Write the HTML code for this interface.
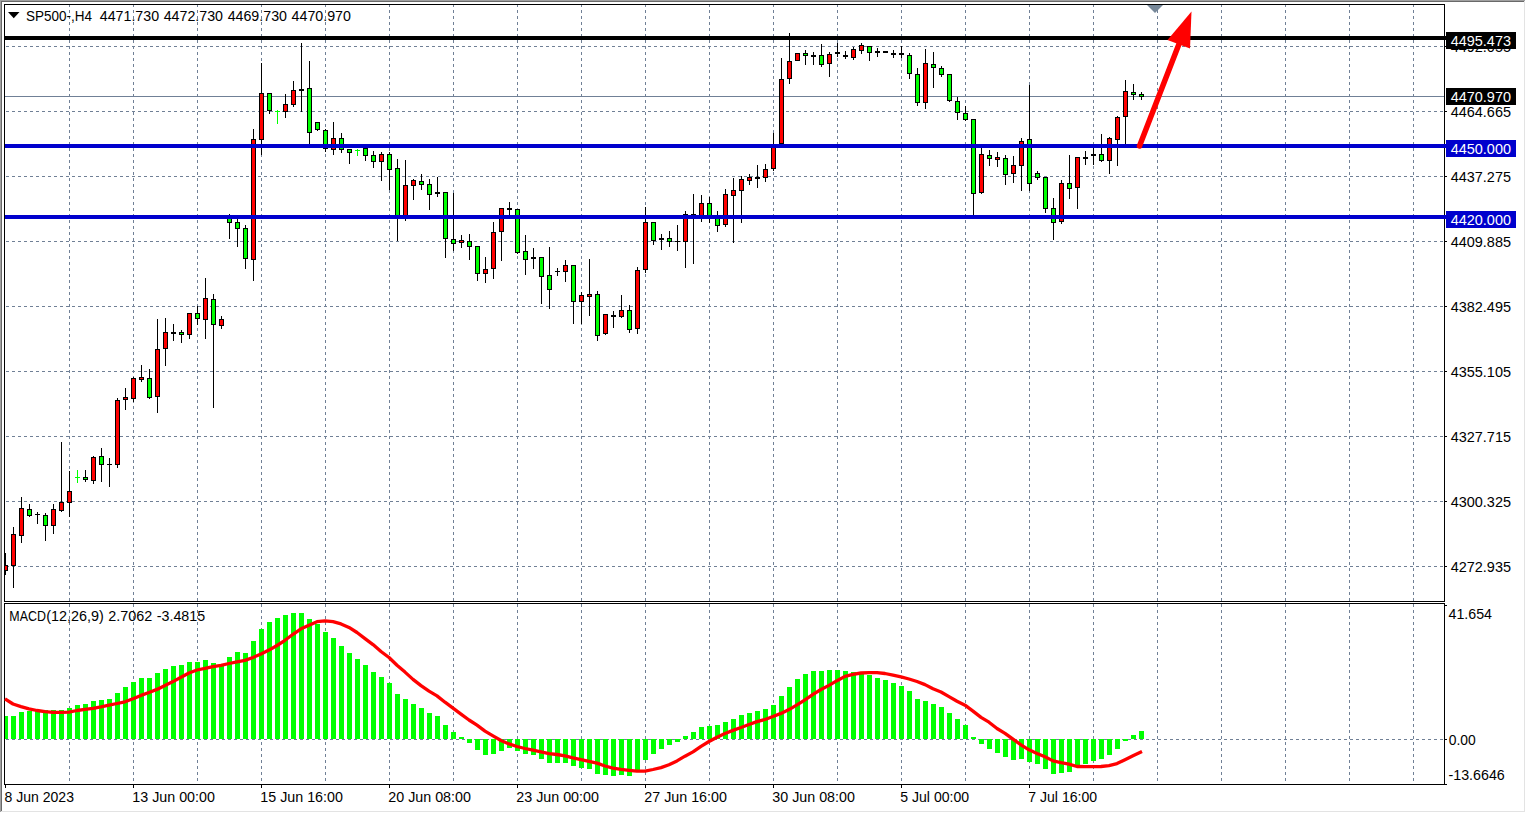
<!DOCTYPE html>
<html><head><meta charset="utf-8"><title>SP500-,H4</title>
<style>
html,body{margin:0;padding:0;background:#fff;overflow:hidden}
svg{display:block}
text{font-family:"Liberation Sans",Arial,sans-serif;font-size:14px;fill:#000}
.w{fill:#fff}
</style></head><body>
<svg width="1526" height="813" viewBox="0 0 1526 813">
<rect width="1526" height="813" fill="#fff"/>
<g shape-rendering="crispEdges">
<rect x="0" y="0" width="1525" height="1" fill="#a0a0a0"/><rect x="0" y="0" width="1" height="812" fill="#a0a0a0"/><rect x="1" y="1" width="1523" height="1" fill="#696969"/><rect x="1" y="1" width="1" height="810" fill="#696969"/><rect x="1524" y="1" width="1" height="811" fill="#e3e3e3"/><rect x="1" y="811" width="1524" height="1" fill="#e3e3e3"/>
<g id="grid" stroke="#708096" stroke-width="1" stroke-dasharray="3 3"><line x1="69.5" y1="5" x2="69.5" y2="601" stroke-dashoffset="1"/><line x1="69.5" y1="604" x2="69.5" y2="784" stroke-dashoffset="0"/><line x1="133.5" y1="5" x2="133.5" y2="601" stroke-dashoffset="1"/><line x1="133.5" y1="604" x2="133.5" y2="784" stroke-dashoffset="0"/><line x1="197.5" y1="5" x2="197.5" y2="601" stroke-dashoffset="1"/><line x1="197.5" y1="604" x2="197.5" y2="784" stroke-dashoffset="0"/><line x1="261.5" y1="5" x2="261.5" y2="601" stroke-dashoffset="1"/><line x1="261.5" y1="604" x2="261.5" y2="784" stroke-dashoffset="0"/><line x1="325.5" y1="5" x2="325.5" y2="601" stroke-dashoffset="1"/><line x1="325.5" y1="604" x2="325.5" y2="784" stroke-dashoffset="0"/><line x1="389.5" y1="5" x2="389.5" y2="601" stroke-dashoffset="1"/><line x1="389.5" y1="604" x2="389.5" y2="784" stroke-dashoffset="0"/><line x1="453.5" y1="5" x2="453.5" y2="601" stroke-dashoffset="1"/><line x1="453.5" y1="604" x2="453.5" y2="784" stroke-dashoffset="0"/><line x1="517.5" y1="5" x2="517.5" y2="601" stroke-dashoffset="1"/><line x1="517.5" y1="604" x2="517.5" y2="784" stroke-dashoffset="0"/><line x1="581.5" y1="5" x2="581.5" y2="601" stroke-dashoffset="1"/><line x1="581.5" y1="604" x2="581.5" y2="784" stroke-dashoffset="0"/><line x1="645.5" y1="5" x2="645.5" y2="601" stroke-dashoffset="1"/><line x1="645.5" y1="604" x2="645.5" y2="784" stroke-dashoffset="0"/><line x1="709.5" y1="5" x2="709.5" y2="601" stroke-dashoffset="1"/><line x1="709.5" y1="604" x2="709.5" y2="784" stroke-dashoffset="0"/><line x1="773.5" y1="5" x2="773.5" y2="601" stroke-dashoffset="1"/><line x1="773.5" y1="604" x2="773.5" y2="784" stroke-dashoffset="0"/><line x1="837.5" y1="5" x2="837.5" y2="601" stroke-dashoffset="1"/><line x1="837.5" y1="604" x2="837.5" y2="784" stroke-dashoffset="0"/><line x1="901.5" y1="5" x2="901.5" y2="601" stroke-dashoffset="1"/><line x1="901.5" y1="604" x2="901.5" y2="784" stroke-dashoffset="0"/><line x1="965.5" y1="5" x2="965.5" y2="601" stroke-dashoffset="1"/><line x1="965.5" y1="604" x2="965.5" y2="784" stroke-dashoffset="0"/><line x1="1029.5" y1="5" x2="1029.5" y2="601" stroke-dashoffset="1"/><line x1="1029.5" y1="604" x2="1029.5" y2="784" stroke-dashoffset="0"/><line x1="1093.5" y1="5" x2="1093.5" y2="601" stroke-dashoffset="1"/><line x1="1093.5" y1="604" x2="1093.5" y2="784" stroke-dashoffset="0"/><line x1="1157.5" y1="5" x2="1157.5" y2="601" stroke-dashoffset="1"/><line x1="1157.5" y1="604" x2="1157.5" y2="784" stroke-dashoffset="0"/><line x1="1221.5" y1="5" x2="1221.5" y2="601" stroke-dashoffset="1"/><line x1="1221.5" y1="604" x2="1221.5" y2="784" stroke-dashoffset="0"/><line x1="1285.5" y1="5" x2="1285.5" y2="601" stroke-dashoffset="1"/><line x1="1285.5" y1="604" x2="1285.5" y2="784" stroke-dashoffset="0"/><line x1="1349.5" y1="5" x2="1349.5" y2="601" stroke-dashoffset="1"/><line x1="1349.5" y1="604" x2="1349.5" y2="784" stroke-dashoffset="0"/><line x1="1413.5" y1="5" x2="1413.5" y2="601" stroke-dashoffset="1"/><line x1="1413.5" y1="604" x2="1413.5" y2="784" stroke-dashoffset="0"/><line x1="5" y1="46.5" x2="1444" y2="46.5" stroke-dashoffset="5"/><line x1="5" y1="111.5" x2="1444" y2="111.5" stroke-dashoffset="5"/><line x1="5" y1="176.5" x2="1444" y2="176.5" stroke-dashoffset="5"/><line x1="5" y1="241.5" x2="1444" y2="241.5" stroke-dashoffset="5"/><line x1="5" y1="306.5" x2="1444" y2="306.5" stroke-dashoffset="5"/><line x1="5" y1="371.5" x2="1444" y2="371.5" stroke-dashoffset="5"/><line x1="5" y1="436.5" x2="1444" y2="436.5" stroke-dashoffset="5"/><line x1="5" y1="501.5" x2="1444" y2="501.5" stroke-dashoffset="5"/><line x1="5" y1="566.5" x2="1444" y2="566.5" stroke-dashoffset="5"/><line x1="5" y1="739.5" x2="1444" y2="739.5" stroke-dashoffset="5"/></g>
<rect x="5" y="96" width="1439" height="1" fill="#708096"/>
<g id="macd"><rect x="5" y="716" width="3" height="23" fill="#00ff00"/><rect x="11" y="716" width="5" height="23" fill="#00ff00"/><rect x="19" y="712" width="5" height="27" fill="#00ff00"/><rect x="27" y="711" width="5" height="28" fill="#00ff00"/><rect x="35" y="710" width="5" height="29" fill="#00ff00"/><rect x="43" y="710" width="5" height="29" fill="#00ff00"/><rect x="51" y="710" width="5" height="29" fill="#00ff00"/><rect x="59" y="710" width="5" height="29" fill="#00ff00"/><rect x="67" y="708" width="5" height="31" fill="#00ff00"/><rect x="75" y="705" width="5" height="34" fill="#00ff00"/><rect x="83" y="704" width="5" height="35" fill="#00ff00"/><rect x="91" y="701" width="5" height="38" fill="#00ff00"/><rect x="99" y="700" width="5" height="39" fill="#00ff00"/><rect x="107" y="699" width="5" height="40" fill="#00ff00"/><rect x="115" y="693" width="5" height="46" fill="#00ff00"/><rect x="123" y="687" width="5" height="52" fill="#00ff00"/><rect x="131" y="682" width="5" height="57" fill="#00ff00"/><rect x="139" y="678" width="5" height="61" fill="#00ff00"/><rect x="147" y="678" width="5" height="61" fill="#00ff00"/><rect x="155" y="673" width="5" height="66" fill="#00ff00"/><rect x="163" y="669" width="5" height="70" fill="#00ff00"/><rect x="171" y="666" width="5" height="73" fill="#00ff00"/><rect x="179" y="665" width="5" height="74" fill="#00ff00"/><rect x="187" y="662" width="5" height="77" fill="#00ff00"/><rect x="195" y="662" width="5" height="77" fill="#00ff00"/><rect x="203" y="660" width="5" height="79" fill="#00ff00"/><rect x="211" y="663" width="5" height="76" fill="#00ff00"/><rect x="219" y="664" width="5" height="75" fill="#00ff00"/><rect x="227" y="657" width="5" height="82" fill="#00ff00"/><rect x="235" y="652" width="5" height="87" fill="#00ff00"/><rect x="243" y="653" width="5" height="86" fill="#00ff00"/><rect x="251" y="641" width="5" height="98" fill="#00ff00"/><rect x="259" y="629" width="5" height="110" fill="#00ff00"/><rect x="267" y="622" width="5" height="117" fill="#00ff00"/><rect x="275" y="618" width="5" height="121" fill="#00ff00"/><rect x="283" y="615" width="5" height="124" fill="#00ff00"/><rect x="291" y="613" width="5" height="126" fill="#00ff00"/><rect x="299" y="613" width="5" height="126" fill="#00ff00"/><rect x="307" y="619" width="5" height="120" fill="#00ff00"/><rect x="315" y="624" width="5" height="115" fill="#00ff00"/><rect x="323" y="632" width="5" height="107" fill="#00ff00"/><rect x="331" y="638" width="5" height="101" fill="#00ff00"/><rect x="339" y="646" width="5" height="93" fill="#00ff00"/><rect x="347" y="653" width="5" height="86" fill="#00ff00"/><rect x="355" y="659" width="5" height="80" fill="#00ff00"/><rect x="363" y="665" width="5" height="74" fill="#00ff00"/><rect x="371" y="672" width="5" height="67" fill="#00ff00"/><rect x="379" y="677" width="5" height="62" fill="#00ff00"/><rect x="387" y="683" width="5" height="56" fill="#00ff00"/><rect x="395" y="694" width="5" height="45" fill="#00ff00"/><rect x="403" y="699" width="5" height="40" fill="#00ff00"/><rect x="411" y="704" width="5" height="35" fill="#00ff00"/><rect x="419" y="708" width="5" height="31" fill="#00ff00"/><rect x="427" y="713" width="5" height="26" fill="#00ff00"/><rect x="435" y="716" width="5" height="23" fill="#00ff00"/><rect x="443" y="725" width="5" height="14" fill="#00ff00"/><rect x="451" y="732" width="5" height="7" fill="#00ff00"/><rect x="459" y="737" width="5" height="2" fill="#00ff00"/><rect x="467" y="739" width="5" height="4" fill="#00ff00"/><rect x="475" y="739" width="5" height="11" fill="#00ff00"/><rect x="483" y="739" width="5" height="16" fill="#00ff00"/><rect x="491" y="739" width="5" height="15" fill="#00ff00"/><rect x="499" y="739" width="5" height="12" fill="#00ff00"/><rect x="507" y="739" width="5" height="9" fill="#00ff00"/><rect x="515" y="739" width="5" height="12" fill="#00ff00"/><rect x="523" y="739" width="5" height="15" fill="#00ff00"/><rect x="531" y="739" width="5" height="16" fill="#00ff00"/><rect x="539" y="739" width="5" height="20" fill="#00ff00"/><rect x="547" y="739" width="5" height="24" fill="#00ff00"/><rect x="555" y="739" width="5" height="24" fill="#00ff00"/><rect x="563" y="739" width="5" height="24" fill="#00ff00"/><rect x="571" y="739" width="5" height="27" fill="#00ff00"/><rect x="579" y="739" width="5" height="29" fill="#00ff00"/><rect x="587" y="739" width="5" height="30" fill="#00ff00"/><rect x="595" y="739" width="5" height="35" fill="#00ff00"/><rect x="603" y="739" width="5" height="36" fill="#00ff00"/><rect x="611" y="739" width="5" height="37" fill="#00ff00"/><rect x="619" y="739" width="5" height="36" fill="#00ff00"/><rect x="627" y="739" width="5" height="37" fill="#00ff00"/><rect x="635" y="739" width="5" height="32" fill="#00ff00"/><rect x="643" y="739" width="5" height="21" fill="#00ff00"/><rect x="651" y="739" width="5" height="15" fill="#00ff00"/><rect x="659" y="739" width="5" height="10" fill="#00ff00"/><rect x="667" y="739" width="5" height="6" fill="#00ff00"/><rect x="675" y="739" width="5" height="3" fill="#00ff00"/><rect x="683" y="736" width="5" height="3" fill="#00ff00"/><rect x="691" y="732" width="5" height="7" fill="#00ff00"/><rect x="699" y="727" width="5" height="12" fill="#00ff00"/><rect x="707" y="726" width="5" height="13" fill="#00ff00"/><rect x="715" y="725" width="5" height="14" fill="#00ff00"/><rect x="723" y="722" width="5" height="17" fill="#00ff00"/><rect x="731" y="719" width="5" height="20" fill="#00ff00"/><rect x="739" y="715" width="5" height="24" fill="#00ff00"/><rect x="747" y="713" width="5" height="26" fill="#00ff00"/><rect x="755" y="711" width="5" height="28" fill="#00ff00"/><rect x="763" y="709" width="5" height="30" fill="#00ff00"/><rect x="771" y="705" width="5" height="34" fill="#00ff00"/><rect x="779" y="696" width="5" height="43" fill="#00ff00"/><rect x="787" y="687" width="5" height="52" fill="#00ff00"/><rect x="795" y="679" width="5" height="60" fill="#00ff00"/><rect x="803" y="674" width="5" height="65" fill="#00ff00"/><rect x="811" y="671" width="5" height="68" fill="#00ff00"/><rect x="819" y="671" width="5" height="68" fill="#00ff00"/><rect x="827" y="670" width="5" height="69" fill="#00ff00"/><rect x="835" y="670" width="5" height="69" fill="#00ff00"/><rect x="843" y="671" width="5" height="68" fill="#00ff00"/><rect x="851" y="672" width="5" height="67" fill="#00ff00"/><rect x="859" y="673" width="5" height="66" fill="#00ff00"/><rect x="867" y="675" width="5" height="64" fill="#00ff00"/><rect x="875" y="678" width="5" height="61" fill="#00ff00"/><rect x="883" y="680" width="5" height="59" fill="#00ff00"/><rect x="891" y="683" width="5" height="56" fill="#00ff00"/><rect x="899" y="686" width="5" height="53" fill="#00ff00"/><rect x="907" y="691" width="5" height="48" fill="#00ff00"/><rect x="915" y="699" width="5" height="40" fill="#00ff00"/><rect x="923" y="701" width="5" height="38" fill="#00ff00"/><rect x="931" y="704" width="5" height="35" fill="#00ff00"/><rect x="939" y="707" width="5" height="32" fill="#00ff00"/><rect x="947" y="713" width="5" height="26" fill="#00ff00"/><rect x="955" y="719" width="5" height="20" fill="#00ff00"/><rect x="963" y="725" width="5" height="14" fill="#00ff00"/><rect x="971" y="737" width="5" height="2" fill="#00ff00"/><rect x="979" y="739" width="5" height="5" fill="#00ff00"/><rect x="987" y="739" width="5" height="10" fill="#00ff00"/><rect x="995" y="739" width="5" height="14" fill="#00ff00"/><rect x="1003" y="739" width="5" height="18" fill="#00ff00"/><rect x="1011" y="739" width="5" height="21" fill="#00ff00"/><rect x="1019" y="739" width="5" height="20" fill="#00ff00"/><rect x="1027" y="739" width="5" height="23" fill="#00ff00"/><rect x="1035" y="739" width="5" height="25" fill="#00ff00"/><rect x="1043" y="739" width="5" height="30" fill="#00ff00"/><rect x="1051" y="739" width="5" height="35" fill="#00ff00"/><rect x="1059" y="739" width="5" height="34" fill="#00ff00"/><rect x="1067" y="739" width="5" height="33" fill="#00ff00"/><rect x="1075" y="739" width="5" height="26" fill="#00ff00"/><rect x="1083" y="739" width="5" height="25" fill="#00ff00"/><rect x="1091" y="739" width="5" height="22" fill="#00ff00"/><rect x="1099" y="739" width="5" height="20" fill="#00ff00"/><rect x="1107" y="739" width="5" height="16" fill="#00ff00"/><rect x="1115" y="739" width="5" height="10" fill="#00ff00"/><rect x="1123" y="739" width="5" height="2" fill="#00ff00"/><rect x="1131" y="735" width="5" height="4" fill="#00ff00"/><rect x="1139" y="731" width="5" height="8" fill="#00ff00"/></g>
<g id="candles"><rect x="5" y="553" width="1" height="22" fill="#000"/><rect x="5" y="565" width="3" height="6" fill="#000"/><rect x="5" y="566" width="2" height="4" fill="#ff0000"/><rect x="13" y="527" width="1" height="61" fill="#000"/><rect x="11" y="534" width="5" height="32" fill="#000"/><rect x="12" y="535" width="3" height="30" fill="#ff0000"/><rect x="21" y="497" width="1" height="46" fill="#000"/><rect x="19" y="508" width="5" height="28" fill="#000"/><rect x="20" y="509" width="3" height="26" fill="#ff0000"/><rect x="29" y="504" width="1" height="13" fill="#000"/><rect x="27" y="509" width="5" height="7" fill="#000"/><rect x="28" y="510" width="3" height="5" fill="#00ff00"/><rect x="37" y="512" width="1" height="12" fill="#000"/><rect x="35" y="514" width="5" height="1" fill="#000"/><rect x="45" y="513" width="1" height="28" fill="#000"/><rect x="43" y="515" width="5" height="11" fill="#000"/><rect x="44" y="516" width="3" height="9" fill="#00ff00"/><rect x="53" y="504" width="1" height="30" fill="#000"/><rect x="51" y="509" width="5" height="17" fill="#000"/><rect x="52" y="510" width="3" height="15" fill="#ff0000"/><rect x="61" y="442" width="1" height="70" fill="#000"/><rect x="59" y="502" width="5" height="9" fill="#000"/><rect x="60" y="503" width="3" height="7" fill="#ff0000"/><rect x="69" y="471" width="1" height="46" fill="#000"/><rect x="67" y="491" width="5" height="12" fill="#000"/><rect x="68" y="492" width="3" height="10" fill="#ff0000"/><rect x="77" y="470" width="1" height="13" fill="#00ff00"/><rect x="75" y="477" width="5" height="1" fill="#00ff00"/><rect x="85" y="470" width="1" height="12" fill="#000"/><rect x="83" y="477" width="5" height="3" fill="#000"/><rect x="84" y="478" width="3" height="1" fill="#00ff00"/><rect x="93" y="456" width="1" height="28" fill="#000"/><rect x="91" y="457" width="5" height="24" fill="#000"/><rect x="92" y="458" width="3" height="22" fill="#ff0000"/><rect x="101" y="448" width="1" height="34" fill="#000"/><rect x="99" y="456" width="5" height="9" fill="#000"/><rect x="100" y="457" width="3" height="7" fill="#00ff00"/><rect x="109" y="458" width="1" height="29" fill="#000"/><rect x="107" y="464" width="5" height="1" fill="#000"/><rect x="117" y="398" width="1" height="70" fill="#000"/><rect x="115" y="400" width="5" height="65" fill="#000"/><rect x="116" y="401" width="3" height="63" fill="#ff0000"/><rect x="125" y="388" width="1" height="22" fill="#000"/><rect x="123" y="397" width="5" height="3" fill="#000"/><rect x="124" y="398" width="3" height="1" fill="#ff0000"/><rect x="133" y="377" width="1" height="25" fill="#000"/><rect x="131" y="378" width="5" height="21" fill="#000"/><rect x="132" y="379" width="3" height="19" fill="#ff0000"/><rect x="141" y="365" width="1" height="17" fill="#000"/><rect x="139" y="377" width="5" height="3" fill="#000"/><rect x="140" y="378" width="3" height="1" fill="#ff0000"/><rect x="149" y="369" width="1" height="30" fill="#000"/><rect x="147" y="378" width="5" height="20" fill="#000"/><rect x="148" y="379" width="3" height="18" fill="#00ff00"/><rect x="157" y="319" width="1" height="94" fill="#000"/><rect x="155" y="349" width="5" height="48" fill="#000"/><rect x="156" y="350" width="3" height="46" fill="#ff0000"/><rect x="165" y="318" width="1" height="48" fill="#000"/><rect x="163" y="332" width="5" height="17" fill="#000"/><rect x="164" y="333" width="3" height="15" fill="#ff0000"/><rect x="173" y="324" width="1" height="17" fill="#000"/><rect x="171" y="332" width="5" height="2" fill="#000"/><rect x="181" y="330" width="1" height="13" fill="#000"/><rect x="179" y="332" width="5" height="3" fill="#000"/><rect x="180" y="333" width="3" height="1" fill="#00ff00"/><rect x="189" y="313" width="1" height="26" fill="#000"/><rect x="187" y="313" width="5" height="22" fill="#000"/><rect x="188" y="314" width="3" height="20" fill="#ff0000"/><rect x="197" y="306" width="1" height="19" fill="#000"/><rect x="195" y="313" width="5" height="6" fill="#000"/><rect x="196" y="314" width="3" height="4" fill="#00ff00"/><rect x="205" y="278" width="1" height="61" fill="#000"/><rect x="203" y="298" width="5" height="22" fill="#000"/><rect x="204" y="299" width="3" height="20" fill="#ff0000"/><rect x="213" y="294" width="1" height="114" fill="#000"/><rect x="211" y="299" width="5" height="26" fill="#000"/><rect x="212" y="300" width="3" height="24" fill="#00ff00"/><rect x="221" y="316" width="1" height="13" fill="#000"/><rect x="219" y="319" width="5" height="7" fill="#000"/><rect x="220" y="320" width="3" height="5" fill="#ff0000"/><rect x="229" y="214" width="1" height="25" fill="#000"/><rect x="227" y="216" width="5" height="7" fill="#000"/><rect x="228" y="217" width="3" height="5" fill="#00ff00"/><rect x="237" y="219" width="1" height="28" fill="#000"/><rect x="235" y="222" width="5" height="7" fill="#000"/><rect x="236" y="223" width="3" height="5" fill="#00ff00"/><rect x="245" y="225" width="1" height="44" fill="#000"/><rect x="243" y="228" width="5" height="31" fill="#000"/><rect x="244" y="229" width="3" height="29" fill="#00ff00"/><rect x="253" y="129" width="1" height="152" fill="#000"/><rect x="251" y="139" width="5" height="121" fill="#000"/><rect x="252" y="140" width="3" height="119" fill="#ff0000"/><rect x="261" y="63" width="1" height="92" fill="#000"/><rect x="259" y="93" width="5" height="47" fill="#000"/><rect x="260" y="94" width="3" height="45" fill="#ff0000"/><rect x="269" y="93" width="1" height="21" fill="#000"/><rect x="267" y="93" width="5" height="18" fill="#000"/><rect x="268" y="94" width="3" height="16" fill="#00ff00"/><rect x="277" y="110" width="1" height="14" fill="#00ff00"/><rect x="275" y="111" width="5" height="1" fill="#00ff00"/><rect x="285" y="94" width="1" height="24" fill="#000"/><rect x="283" y="104" width="5" height="8" fill="#000"/><rect x="284" y="105" width="3" height="6" fill="#ff0000"/><rect x="293" y="81" width="1" height="26" fill="#000"/><rect x="291" y="90" width="5" height="15" fill="#000"/><rect x="292" y="91" width="3" height="13" fill="#ff0000"/><rect x="301" y="43" width="1" height="69" fill="#000"/><rect x="299" y="89" width="5" height="2" fill="#000"/><rect x="309" y="61" width="1" height="83" fill="#000"/><rect x="307" y="88" width="5" height="45" fill="#000"/><rect x="308" y="89" width="3" height="43" fill="#00ff00"/><rect x="317" y="122" width="1" height="9" fill="#000"/><rect x="315" y="122" width="5" height="8" fill="#000"/><rect x="316" y="123" width="3" height="6" fill="#00ff00"/><rect x="325" y="129" width="1" height="23" fill="#000"/><rect x="323" y="130" width="5" height="19" fill="#000"/><rect x="324" y="131" width="3" height="17" fill="#00ff00"/><rect x="333" y="122" width="1" height="33" fill="#000"/><rect x="331" y="138" width="5" height="12" fill="#000"/><rect x="332" y="139" width="3" height="10" fill="#ff0000"/><rect x="341" y="133" width="1" height="20" fill="#000"/><rect x="339" y="138" width="5" height="12" fill="#000"/><rect x="340" y="139" width="3" height="10" fill="#00ff00"/><rect x="349" y="149" width="1" height="15" fill="#000"/><rect x="347" y="149" width="5" height="4" fill="#000"/><rect x="348" y="150" width="3" height="2" fill="#00ff00"/><rect x="357" y="149" width="1" height="7" fill="#00ff00"/><rect x="355" y="150" width="5" height="1" fill="#00ff00"/><rect x="365" y="148" width="1" height="13" fill="#000"/><rect x="363" y="148" width="5" height="8" fill="#000"/><rect x="364" y="149" width="3" height="6" fill="#00ff00"/><rect x="373" y="151" width="1" height="17" fill="#000"/><rect x="371" y="155" width="5" height="7" fill="#000"/><rect x="372" y="156" width="3" height="5" fill="#00ff00"/><rect x="381" y="152" width="1" height="29" fill="#000"/><rect x="379" y="154" width="5" height="8" fill="#000"/><rect x="380" y="155" width="3" height="6" fill="#ff0000"/><rect x="389" y="152" width="1" height="38" fill="#000"/><rect x="387" y="154" width="5" height="16" fill="#000"/><rect x="388" y="155" width="3" height="14" fill="#00ff00"/><rect x="397" y="159" width="1" height="82" fill="#000"/><rect x="395" y="168" width="5" height="49" fill="#000"/><rect x="396" y="169" width="3" height="47" fill="#00ff00"/><rect x="405" y="160" width="1" height="61" fill="#000"/><rect x="403" y="185" width="5" height="32" fill="#000"/><rect x="404" y="186" width="3" height="30" fill="#ff0000"/><rect x="413" y="179" width="1" height="21" fill="#000"/><rect x="411" y="180" width="5" height="6" fill="#000"/><rect x="412" y="181" width="3" height="4" fill="#ff0000"/><rect x="421" y="174" width="1" height="16" fill="#000"/><rect x="419" y="181" width="5" height="4" fill="#000"/><rect x="420" y="182" width="3" height="2" fill="#00ff00"/><rect x="429" y="179" width="1" height="31" fill="#000"/><rect x="427" y="184" width="5" height="11" fill="#000"/><rect x="428" y="185" width="3" height="9" fill="#00ff00"/><rect x="437" y="177" width="1" height="20" fill="#000"/><rect x="435" y="192" width="5" height="2" fill="#000"/><rect x="445" y="192" width="1" height="66" fill="#000"/><rect x="443" y="192" width="5" height="47" fill="#000"/><rect x="444" y="193" width="3" height="45" fill="#00ff00"/><rect x="453" y="193" width="1" height="58" fill="#000"/><rect x="451" y="239" width="5" height="5" fill="#000"/><rect x="452" y="240" width="3" height="3" fill="#00ff00"/><rect x="461" y="235" width="1" height="13" fill="#000"/><rect x="459" y="240" width="5" height="3" fill="#000"/><rect x="460" y="241" width="3" height="1" fill="#ff0000"/><rect x="469" y="234" width="1" height="26" fill="#000"/><rect x="467" y="241" width="5" height="6" fill="#000"/><rect x="468" y="242" width="3" height="4" fill="#00ff00"/><rect x="477" y="246" width="1" height="35" fill="#000"/><rect x="475" y="246" width="5" height="28" fill="#000"/><rect x="476" y="247" width="3" height="26" fill="#00ff00"/><rect x="485" y="257" width="1" height="26" fill="#000"/><rect x="483" y="269" width="5" height="5" fill="#000"/><rect x="484" y="270" width="3" height="3" fill="#ff0000"/><rect x="493" y="222" width="1" height="57" fill="#000"/><rect x="491" y="232" width="5" height="37" fill="#000"/><rect x="492" y="233" width="3" height="35" fill="#ff0000"/><rect x="501" y="208" width="1" height="53" fill="#000"/><rect x="499" y="208" width="5" height="24" fill="#000"/><rect x="500" y="209" width="3" height="22" fill="#ff0000"/><rect x="509" y="202" width="1" height="13" fill="#000"/><rect x="507" y="208" width="5" height="2" fill="#000"/><rect x="517" y="209" width="1" height="45" fill="#000"/><rect x="515" y="209" width="5" height="44" fill="#000"/><rect x="516" y="210" width="3" height="42" fill="#00ff00"/><rect x="525" y="235" width="1" height="40" fill="#000"/><rect x="523" y="251" width="5" height="9" fill="#000"/><rect x="524" y="252" width="3" height="7" fill="#00ff00"/><rect x="533" y="248" width="1" height="21" fill="#000"/><rect x="531" y="257" width="5" height="2" fill="#000"/><rect x="541" y="257" width="1" height="47" fill="#000"/><rect x="539" y="257" width="5" height="20" fill="#000"/><rect x="540" y="258" width="3" height="18" fill="#00ff00"/><rect x="549" y="247" width="1" height="62" fill="#000"/><rect x="547" y="275" width="5" height="15" fill="#000"/><rect x="548" y="276" width="3" height="13" fill="#00ff00"/><rect x="557" y="268" width="1" height="8" fill="#000"/><rect x="555" y="271" width="5" height="1" fill="#000"/><rect x="565" y="260" width="1" height="22" fill="#000"/><rect x="563" y="265" width="5" height="7" fill="#000"/><rect x="564" y="266" width="3" height="5" fill="#ff0000"/><rect x="573" y="265" width="1" height="59" fill="#000"/><rect x="571" y="265" width="5" height="37" fill="#000"/><rect x="572" y="266" width="3" height="35" fill="#00ff00"/><rect x="581" y="292" width="1" height="32" fill="#000"/><rect x="579" y="295" width="5" height="7" fill="#000"/><rect x="580" y="296" width="3" height="5" fill="#ff0000"/><rect x="589" y="259" width="1" height="57" fill="#000"/><rect x="587" y="294" width="5" height="3" fill="#000"/><rect x="588" y="295" width="3" height="1" fill="#ff0000"/><rect x="597" y="291" width="1" height="50" fill="#000"/><rect x="595" y="294" width="5" height="42" fill="#000"/><rect x="596" y="295" width="3" height="40" fill="#00ff00"/><rect x="605" y="314" width="1" height="21" fill="#000"/><rect x="603" y="314" width="5" height="20" fill="#000"/><rect x="604" y="315" width="3" height="18" fill="#ff0000"/><rect x="613" y="311" width="1" height="17" fill="#000"/><rect x="611" y="315" width="5" height="2" fill="#000"/><rect x="621" y="295" width="1" height="23" fill="#000"/><rect x="619" y="310" width="5" height="7" fill="#000"/><rect x="620" y="311" width="3" height="5" fill="#ff0000"/><rect x="629" y="305" width="1" height="28" fill="#000"/><rect x="627" y="310" width="5" height="20" fill="#000"/><rect x="628" y="311" width="3" height="18" fill="#00ff00"/><rect x="637" y="267" width="1" height="67" fill="#000"/><rect x="635" y="270" width="5" height="59" fill="#000"/><rect x="636" y="271" width="3" height="57" fill="#ff0000"/><rect x="645" y="207" width="1" height="66" fill="#000"/><rect x="643" y="222" width="5" height="48" fill="#000"/><rect x="644" y="223" width="3" height="46" fill="#ff0000"/><rect x="653" y="222" width="1" height="23" fill="#000"/><rect x="651" y="222" width="5" height="19" fill="#000"/><rect x="652" y="223" width="3" height="17" fill="#00ff00"/><rect x="661" y="234" width="1" height="16" fill="#000"/><rect x="659" y="238" width="5" height="2" fill="#000"/><rect x="669" y="231" width="1" height="16" fill="#000"/><rect x="667" y="238" width="5" height="4" fill="#000"/><rect x="668" y="239" width="3" height="2" fill="#00ff00"/><rect x="677" y="225" width="1" height="26" fill="#000"/><rect x="675" y="241" width="5" height="1" fill="#000"/><rect x="685" y="211" width="1" height="57" fill="#000"/><rect x="683" y="214" width="5" height="28" fill="#000"/><rect x="684" y="215" width="3" height="26" fill="#ff0000"/><rect x="693" y="194" width="1" height="70" fill="#000"/><rect x="691" y="214" width="5" height="1" fill="#000"/><rect x="701" y="195" width="1" height="27" fill="#000"/><rect x="699" y="203" width="5" height="14" fill="#000"/><rect x="700" y="204" width="3" height="12" fill="#ff0000"/><rect x="709" y="197" width="1" height="26" fill="#000"/><rect x="707" y="203" width="5" height="14" fill="#000"/><rect x="708" y="204" width="3" height="12" fill="#00ff00"/><rect x="717" y="211" width="1" height="21" fill="#000"/><rect x="715" y="215" width="5" height="11" fill="#000"/><rect x="716" y="216" width="3" height="9" fill="#00ff00"/><rect x="725" y="189" width="1" height="38" fill="#000"/><rect x="723" y="194" width="5" height="31" fill="#000"/><rect x="724" y="195" width="3" height="29" fill="#ff0000"/><rect x="733" y="178" width="1" height="65" fill="#000"/><rect x="731" y="190" width="5" height="6" fill="#000"/><rect x="732" y="191" width="3" height="4" fill="#ff0000"/><rect x="741" y="176" width="1" height="47" fill="#000"/><rect x="739" y="179" width="5" height="12" fill="#000"/><rect x="740" y="180" width="3" height="10" fill="#ff0000"/><rect x="749" y="174" width="1" height="11" fill="#000"/><rect x="747" y="177" width="5" height="4" fill="#000"/><rect x="748" y="178" width="3" height="2" fill="#ff0000"/><rect x="757" y="165" width="1" height="23" fill="#000"/><rect x="755" y="177" width="5" height="2" fill="#000"/><rect x="765" y="164" width="1" height="18" fill="#000"/><rect x="763" y="169" width="5" height="9" fill="#000"/><rect x="764" y="170" width="3" height="7" fill="#ff0000"/><rect x="773" y="133" width="1" height="38" fill="#000"/><rect x="771" y="146" width="5" height="23" fill="#000"/><rect x="772" y="147" width="3" height="21" fill="#ff0000"/><rect x="781" y="58" width="1" height="86" fill="#000"/><rect x="779" y="79" width="5" height="65" fill="#000"/><rect x="780" y="80" width="3" height="63" fill="#ff0000"/><rect x="789" y="33" width="1" height="51" fill="#000"/><rect x="787" y="61" width="5" height="18" fill="#000"/><rect x="788" y="62" width="3" height="16" fill="#ff0000"/><rect x="797" y="53" width="1" height="8" fill="#000"/><rect x="795" y="53" width="5" height="8" fill="#000"/><rect x="796" y="54" width="3" height="6" fill="#ff0000"/><rect x="805" y="50" width="1" height="15" fill="#000"/><rect x="803" y="53" width="5" height="3" fill="#000"/><rect x="804" y="54" width="3" height="1" fill="#00ff00"/><rect x="813" y="52" width="1" height="13" fill="#000"/><rect x="811" y="55" width="5" height="2" fill="#000"/><rect x="821" y="44" width="1" height="23" fill="#000"/><rect x="819" y="55" width="5" height="10" fill="#000"/><rect x="820" y="56" width="3" height="8" fill="#00ff00"/><rect x="829" y="52" width="1" height="25" fill="#000"/><rect x="827" y="54" width="5" height="10" fill="#000"/><rect x="828" y="55" width="3" height="8" fill="#ff0000"/><rect x="837" y="43" width="1" height="14" fill="#000"/><rect x="835" y="52" width="5" height="2" fill="#000"/><rect x="845" y="51" width="1" height="8" fill="#000"/><rect x="843" y="55" width="5" height="2" fill="#000"/><rect x="853" y="47" width="1" height="13" fill="#000"/><rect x="851" y="49" width="5" height="9" fill="#000"/><rect x="852" y="50" width="3" height="7" fill="#ff0000"/><rect x="861" y="43" width="1" height="11" fill="#000"/><rect x="859" y="45" width="5" height="6" fill="#000"/><rect x="860" y="46" width="3" height="4" fill="#ff0000"/><rect x="869" y="46" width="1" height="15" fill="#000"/><rect x="867" y="46" width="5" height="7" fill="#000"/><rect x="868" y="47" width="3" height="5" fill="#00ff00"/><rect x="877" y="48" width="1" height="9" fill="#000"/><rect x="875" y="51" width="5" height="2" fill="#000"/><rect x="885" y="51" width="1" height="2" fill="#000"/><rect x="883" y="51" width="5" height="2" fill="#000"/><rect x="893" y="50" width="1" height="8" fill="#000"/><rect x="891" y="53" width="5" height="2" fill="#000"/><rect x="901" y="46" width="1" height="12" fill="#000"/><rect x="899" y="53" width="5" height="2" fill="#000"/><rect x="909" y="53" width="1" height="26" fill="#000"/><rect x="907" y="55" width="5" height="19" fill="#000"/><rect x="908" y="56" width="3" height="17" fill="#00ff00"/><rect x="917" y="68" width="1" height="38" fill="#000"/><rect x="915" y="74" width="5" height="29" fill="#000"/><rect x="916" y="75" width="3" height="27" fill="#00ff00"/><rect x="925" y="49" width="1" height="60" fill="#000"/><rect x="923" y="63" width="5" height="40" fill="#000"/><rect x="924" y="64" width="3" height="38" fill="#ff0000"/><rect x="933" y="52" width="1" height="36" fill="#000"/><rect x="931" y="64" width="5" height="4" fill="#000"/><rect x="932" y="65" width="3" height="2" fill="#00ff00"/><rect x="941" y="66" width="1" height="11" fill="#000"/><rect x="939" y="68" width="5" height="7" fill="#000"/><rect x="940" y="69" width="3" height="5" fill="#00ff00"/><rect x="949" y="74" width="1" height="28" fill="#000"/><rect x="947" y="74" width="5" height="27" fill="#000"/><rect x="948" y="75" width="3" height="25" fill="#00ff00"/><rect x="957" y="97" width="1" height="23" fill="#000"/><rect x="955" y="101" width="5" height="12" fill="#000"/><rect x="956" y="102" width="3" height="10" fill="#00ff00"/><rect x="965" y="106" width="1" height="15" fill="#000"/><rect x="963" y="113" width="5" height="7" fill="#000"/><rect x="964" y="114" width="3" height="5" fill="#00ff00"/><rect x="973" y="119" width="1" height="97" fill="#000"/><rect x="971" y="119" width="5" height="75" fill="#000"/><rect x="972" y="120" width="3" height="73" fill="#00ff00"/><rect x="981" y="148" width="1" height="46" fill="#000"/><rect x="979" y="154" width="5" height="39" fill="#000"/><rect x="980" y="155" width="3" height="37" fill="#ff0000"/><rect x="989" y="150" width="1" height="16" fill="#000"/><rect x="987" y="155" width="5" height="4" fill="#000"/><rect x="988" y="156" width="3" height="2" fill="#00ff00"/><rect x="997" y="152" width="1" height="15" fill="#000"/><rect x="995" y="157" width="5" height="3" fill="#000"/><rect x="996" y="158" width="3" height="1" fill="#ff0000"/><rect x="1005" y="155" width="1" height="30" fill="#000"/><rect x="1003" y="158" width="5" height="17" fill="#000"/><rect x="1004" y="159" width="3" height="15" fill="#00ff00"/><rect x="1013" y="156" width="1" height="27" fill="#000"/><rect x="1011" y="165" width="5" height="9" fill="#000"/><rect x="1012" y="166" width="3" height="7" fill="#ff0000"/><rect x="1021" y="138" width="1" height="53" fill="#000"/><rect x="1019" y="141" width="5" height="25" fill="#000"/><rect x="1020" y="142" width="3" height="23" fill="#ff0000"/><rect x="1029" y="85" width="1" height="106" fill="#000"/><rect x="1027" y="139" width="5" height="45" fill="#000"/><rect x="1028" y="140" width="3" height="43" fill="#00ff00"/><rect x="1037" y="171" width="1" height="9" fill="#000"/><rect x="1035" y="173" width="5" height="5" fill="#000"/><rect x="1036" y="174" width="3" height="3" fill="#00ff00"/><rect x="1045" y="177" width="1" height="36" fill="#000"/><rect x="1043" y="177" width="5" height="32" fill="#000"/><rect x="1044" y="178" width="3" height="30" fill="#00ff00"/><rect x="1053" y="198" width="1" height="42" fill="#000"/><rect x="1051" y="208" width="5" height="15" fill="#000"/><rect x="1052" y="209" width="3" height="13" fill="#00ff00"/><rect x="1061" y="180" width="1" height="44" fill="#000"/><rect x="1059" y="183" width="5" height="39" fill="#000"/><rect x="1060" y="184" width="3" height="37" fill="#ff0000"/><rect x="1069" y="155" width="1" height="44" fill="#000"/><rect x="1067" y="183" width="5" height="6" fill="#000"/><rect x="1068" y="184" width="3" height="4" fill="#00ff00"/><rect x="1077" y="157" width="1" height="52" fill="#000"/><rect x="1075" y="157" width="5" height="31" fill="#000"/><rect x="1076" y="158" width="3" height="29" fill="#ff0000"/><rect x="1085" y="151" width="1" height="14" fill="#000"/><rect x="1083" y="157" width="5" height="2" fill="#000"/><rect x="1093" y="147" width="1" height="18" fill="#000"/><rect x="1091" y="154" width="5" height="2" fill="#000"/><rect x="1101" y="134" width="1" height="28" fill="#000"/><rect x="1099" y="154" width="5" height="7" fill="#000"/><rect x="1100" y="155" width="3" height="5" fill="#00ff00"/><rect x="1109" y="137" width="1" height="37" fill="#000"/><rect x="1107" y="138" width="5" height="23" fill="#000"/><rect x="1108" y="139" width="3" height="21" fill="#ff0000"/><rect x="1117" y="116" width="1" height="50" fill="#000"/><rect x="1115" y="117" width="5" height="23" fill="#000"/><rect x="1116" y="118" width="3" height="21" fill="#ff0000"/><rect x="1125" y="80" width="1" height="64" fill="#000"/><rect x="1123" y="91" width="5" height="26" fill="#000"/><rect x="1124" y="92" width="3" height="24" fill="#ff0000"/><rect x="1133" y="84" width="1" height="16" fill="#000"/><rect x="1131" y="92" width="5" height="3" fill="#000"/><rect x="1132" y="93" width="3" height="1" fill="#00ff00"/><rect x="1141" y="92" width="1" height="8" fill="#000"/><rect x="1139" y="94" width="5" height="3" fill="#000"/><rect x="1140" y="95" width="3" height="1" fill="#00ff00"/></g>
<rect x="4" y="4" width="1441" height="1" fill="#000"/><rect x="4" y="601" width="1441" height="1" fill="#000"/><rect x="4" y="4" width="1" height="598" fill="#000"/><rect x="1444" y="4" width="1" height="598" fill="#000"/><rect x="4" y="603" width="1441" height="1" fill="#000"/><rect x="4" y="784" width="1441" height="1" fill="#000"/><rect x="4" y="603" width="1" height="182" fill="#000"/><rect x="1444" y="603" width="1" height="182" fill="#000"/>
<rect x="5" y="36" width="1441" height="4" fill="#000"/><rect x="5" y="144" width="1441" height="4" fill="#0000cd"/><rect x="5" y="215" width="1441" height="4" fill="#0000cd"/>
<rect x="1445" y="46" width="2" height="1" fill="#000"/><rect x="1445" y="111" width="2" height="1" fill="#000"/><rect x="1445" y="176" width="2" height="1" fill="#000"/><rect x="1445" y="241" width="2" height="1" fill="#000"/><rect x="1445" y="306" width="2" height="1" fill="#000"/><rect x="1445" y="371" width="2" height="1" fill="#000"/><rect x="1445" y="436" width="2" height="1" fill="#000"/><rect x="1445" y="501" width="2" height="1" fill="#000"/><rect x="1445" y="566" width="2" height="1" fill="#000"/><rect x="1445" y="739" width="2" height="1" fill="#000"/><rect x="1445" y="605" width="2" height="1" fill="#000"/><rect x="1445" y="784" width="2" height="1" fill="#000"/><rect x="5" y="785" width="1" height="3" fill="#000"/><rect x="133" y="785" width="1" height="3" fill="#000"/><rect x="261" y="785" width="1" height="3" fill="#000"/><rect x="389" y="785" width="1" height="3" fill="#000"/><rect x="517" y="785" width="1" height="3" fill="#000"/><rect x="645" y="785" width="1" height="3" fill="#000"/><rect x="773" y="785" width="1" height="3" fill="#000"/><rect x="901" y="785" width="1" height="3" fill="#000"/><rect x="1029" y="785" width="1" height="3" fill="#000"/>
</g>
<polyline points="5,698.8 13,704.0 21,706.6 29,708.8 37,710.5 45,711.7 53,712.4 61,712.4 69,712.1 77,710.5 85,709.3 93,708.3 101,706.9 109,705.2 117,703.5 125,701.8 133,698.8 141,695.4 149,692.5 157,689.4 165,685.4 173,681.6 181,677.3 189,673.0 197,670.0 205,668.4 213,666.6 221,665.3 229,663.5 237,661.8 245,660.4 253,657.5 261,654.1 269,650.1 277,645.5 285,640.3 293,634.3 301,628.8 309,625.3 317,621.7 325,620.8 333,621.7 341,623.9 349,627.4 357,632.5 365,638.6 373,644.6 381,651.5 389,657.5 397,665.3 405,672.1 413,679.4 421,685.6 429,691.1 437,695.9 445,702.2 453,708.1 461,714.1 469,720.0 477,725.2 485,731.1 493,735.9 501,740.5 509,743.9 517,746.5 525,748.5 533,750.2 541,751.9 549,753.6 557,754.5 565,755.8 573,757.9 581,759.6 589,761.4 597,763.1 605,766.0 613,768.1 621,769.3 629,770.3 637,771.2 645,771.2 653,769.5 661,767.6 669,764.7 677,760.9 685,756.2 693,751.9 701,746.3 709,741.5 717,737.2 725,733.5 733,730.4 741,727.5 749,724.5 757,721.6 765,719.5 773,716.5 781,713.4 789,709.6 797,704.9 805,699.8 813,694.3 821,689.5 829,685.4 837,680.7 845,676.4 853,674.4 861,673.0 869,672.7 877,672.7 885,673.5 893,675.2 901,676.9 909,679.0 917,681.5 925,684.6 933,688.8 941,692.0 949,696.6 957,701.2 965,705.2 973,711.1 981,717.4 989,722.2 997,728.5 1005,733.3 1013,739.2 1021,744.9 1029,749.8 1037,753.4 1045,756.8 1053,760.9 1061,762.6 1069,764.1 1077,766.5 1085,766.7 1093,766.7 1101,766.5 1109,765.6 1117,763.6 1125,759.7 1133,755.8 1142,751.5" fill="none" stroke="#ff0000" stroke-width="3.3" stroke-linejoin="round" stroke-linecap="butt"/>
<line x1="1139.5" y1="146" x2="1179" y2="44" stroke="#ff0000" stroke-width="5.5" stroke-linecap="round"/>
<polygon points="1191.5,11.5 1167.5,40 1190,48.5" fill="#ff0000"/>
<polygon points="1147,5 1163,5 1155,13" fill="#778899"/>
<polygon points="8,12 19.5,12 13.75,18.3" fill="#000"/>
<text x="26" y="21" textLength="66" lengthAdjust="spacingAndGlyphs">SP500-,H4</text><text x="99.8" y="21" textLength="59.3" lengthAdjust="spacingAndGlyphs">4471.730</text><text x="163.73" y="21" textLength="59.3" lengthAdjust="spacingAndGlyphs">4472.730</text><text x="227.66" y="21" textLength="59.3" lengthAdjust="spacingAndGlyphs">4469.730</text><text x="291.59" y="21" textLength="59.3" lengthAdjust="spacingAndGlyphs">4470.970</text><text x="9.3" y="621" textLength="36.6" lengthAdjust="spacingAndGlyphs">MACD</text><text x="46.2" y="621" textLength="57.6" lengthAdjust="spacingAndGlyphs">(12,26,9)</text><text x="108.2" y="621" textLength="44" lengthAdjust="spacingAndGlyphs">2.7062</text><text x="156.8" y="621" textLength="48.3" lengthAdjust="spacingAndGlyphs">-3.4815</text>
<text x="1450.7" y="52" textLength="60.3" lengthAdjust="spacingAndGlyphs">4492.055</text><text x="1450.7" y="117" textLength="60.3" lengthAdjust="spacingAndGlyphs">4464.665</text><text x="1450.7" y="182" textLength="60.3" lengthAdjust="spacingAndGlyphs">4437.275</text><text x="1450.7" y="247" textLength="60.3" lengthAdjust="spacingAndGlyphs">4409.885</text><text x="1450.7" y="312" textLength="60.3" lengthAdjust="spacingAndGlyphs">4382.495</text><text x="1450.7" y="377" textLength="60.3" lengthAdjust="spacingAndGlyphs">4355.105</text><text x="1450.7" y="442" textLength="60.3" lengthAdjust="spacingAndGlyphs">4327.715</text><text x="1450.7" y="507" textLength="60.3" lengthAdjust="spacingAndGlyphs">4300.325</text><text x="1450.7" y="572" textLength="60.3" lengthAdjust="spacingAndGlyphs">4272.935</text>
<g shape-rendering="crispEdges"><rect x="1446" y="32" width="70" height="17" fill="#000"/><rect x="1446" y="88" width="70" height="17" fill="#000"/><rect x="1446" y="140" width="70" height="17" fill="#0000cd"/><rect x="1446" y="211" width="70" height="17" fill="#0000cd"/></g>
<text x="1450.7" y="46" textLength="60.3" lengthAdjust="spacingAndGlyphs" class="w">4495.473</text><text x="1450.7" y="102" textLength="60.3" lengthAdjust="spacingAndGlyphs" class="w">4470.970</text><text x="1450.7" y="154" textLength="60.3" lengthAdjust="spacingAndGlyphs" class="w">4450.000</text><text x="1450.7" y="225" textLength="60.3" lengthAdjust="spacingAndGlyphs" class="w">4420.000</text>
<text x="1448.5" y="619" textLength="43.5" lengthAdjust="spacingAndGlyphs">41.654</text><text x="1448.8" y="744.7" textLength="27" lengthAdjust="spacingAndGlyphs">0.00</text><text x="1448.5" y="780" textLength="56.3" lengthAdjust="spacingAndGlyphs">-13.6646</text>
<text x="4.5" y="801.6" textLength="69.5" lengthAdjust="spacingAndGlyphs">8 Jun 2023</text><text x="132.3" y="801.6" textLength="82.6" lengthAdjust="spacingAndGlyphs">13 Jun 00:00</text><text x="260.3" y="801.6" textLength="82.6" lengthAdjust="spacingAndGlyphs">15 Jun 16:00</text><text x="388.3" y="801.6" textLength="82.6" lengthAdjust="spacingAndGlyphs">20 Jun 08:00</text><text x="516.3" y="801.6" textLength="82.6" lengthAdjust="spacingAndGlyphs">23 Jun 00:00</text><text x="644.3" y="801.6" textLength="82.6" lengthAdjust="spacingAndGlyphs">27 Jun 16:00</text><text x="772.3" y="801.6" textLength="82.6" lengthAdjust="spacingAndGlyphs">30 Jun 08:00</text><text x="900.3" y="801.6" textLength="68.8" lengthAdjust="spacingAndGlyphs">5 Jul 00:00</text><text x="1028.3" y="801.6" textLength="68.8" lengthAdjust="spacingAndGlyphs">7 Jul 16:00</text>
</svg>
</body></html>
